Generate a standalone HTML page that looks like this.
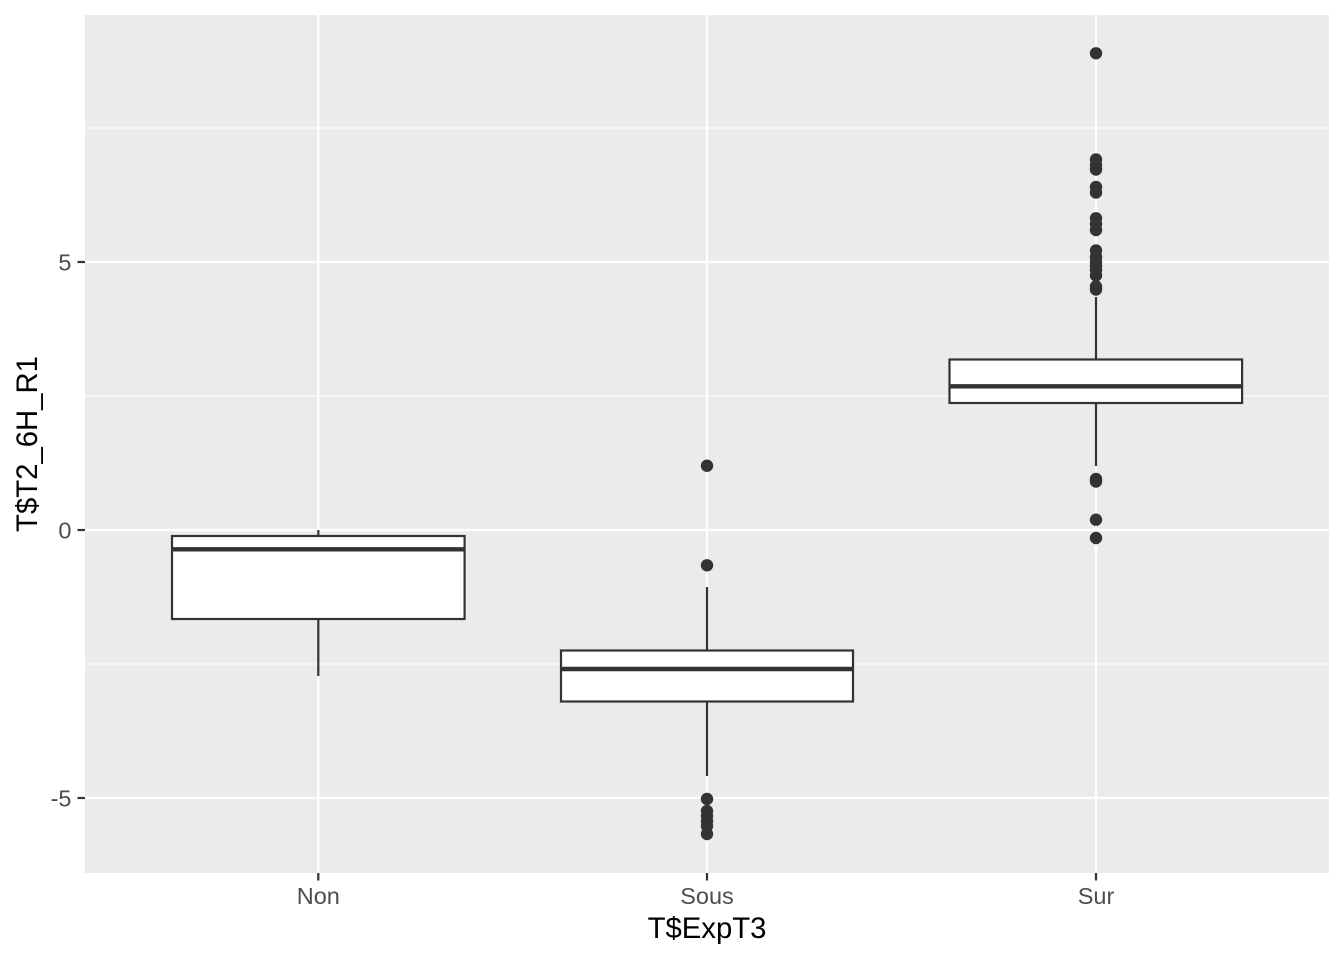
<!DOCTYPE html>
<html>
<head>
<meta charset="utf-8">
<style>
html,body{margin:0;padding:0;background:#fff;}
svg{display:block;}
text{font-family:"Liberation Sans",Arial,sans-serif;}
</style>
</head>
<body>
<svg width="1344" height="960" viewBox="0 0 1344 960" xmlns="http://www.w3.org/2000/svg">
<rect x="0" y="0" width="1344" height="960" fill="#fff"/>
<!-- panel -->
<rect x="85" y="15" width="1244" height="858" fill="#EBEBEB"/>
<!-- minor grid -->
<g stroke="#fff" stroke-width="1.1">
<line x1="85" x2="1329" y1="128" y2="128"/>
<line x1="85" x2="1329" y1="396" y2="396"/>
<line x1="85" x2="1329" y1="664" y2="664"/>
</g>
<!-- major grid -->
<g stroke="#fff" stroke-width="2.2">
<line x1="85" x2="1329" y1="262" y2="262"/>
<line x1="85" x2="1329" y1="530" y2="530"/>
<line x1="85" x2="1329" y1="798" y2="798"/>
<line x1="318.3" x2="318.3" y1="15" y2="873"/>
<line x1="707" x2="707" y1="15" y2="873"/>
<line x1="1096" x2="1096" y1="15" y2="873"/>
</g>
<!-- Non -->
<g stroke="#333" fill="none" stroke-width="2.2">
<line x1="318.3" x2="318.3" y1="530" y2="536"/>
<line x1="318.3" x2="318.3" y1="619" y2="676"/>
<rect x="172" y="536" width="292.6" height="83" fill="#fff"/>
<line x1="172" x2="464.6" y1="549.3" y2="549.3" stroke-width="4.4"/>
</g>
<!-- Sous -->
<g stroke="#333" fill="none" stroke-width="2.2">
<line x1="707" x2="707" y1="587" y2="650.5"/>
<line x1="707" x2="707" y1="701.5" y2="776"/>
<rect x="561" y="650.5" width="292" height="51" fill="#fff"/>
<line x1="561" x2="853" y1="669" y2="669" stroke-width="4.4"/>
</g>
<!-- Sur -->
<g stroke="#333" fill="none" stroke-width="2.2">
<line x1="1096" x2="1096" y1="297" y2="359.5"/>
<line x1="1096" x2="1096" y1="403" y2="466"/>
<rect x="949.5" y="359.5" width="292.6" height="43.5" fill="#fff"/>
<line x1="949.5" x2="1242.1" y1="386.3" y2="386.3" stroke-width="4.4"/>
</g>
<!-- outliers -->
<g fill="#333">
<circle cx="707" cy="465.7" r="6.2"/>
<circle cx="707" cy="565.3" r="6.2"/>
<circle cx="707" cy="799" r="6.2"/>
<circle cx="707" cy="811" r="6.2"/>
<circle cx="707" cy="816" r="6.2"/>
<circle cx="707" cy="821" r="6.2"/>
<circle cx="707" cy="826" r="6.2"/>
<circle cx="707" cy="834" r="6.2"/>
<circle cx="1096" cy="53.3" r="6.2"/>
<circle cx="1096" cy="159.5" r="6.2"/>
<circle cx="1096" cy="165" r="6.2"/>
<circle cx="1096" cy="169.5" r="6.2"/>
<circle cx="1096" cy="187" r="6.2"/>
<circle cx="1096" cy="192.5" r="6.2"/>
<circle cx="1096" cy="218.3" r="6.2"/>
<circle cx="1096" cy="224" r="6.2"/>
<circle cx="1096" cy="230" r="6.2"/>
<circle cx="1096" cy="250.5" r="6.2"/>
<circle cx="1096" cy="257" r="6.2"/>
<circle cx="1096" cy="262" r="6.2"/>
<circle cx="1096" cy="266" r="6.2"/>
<circle cx="1096" cy="270" r="6.2"/>
<circle cx="1096" cy="275.5" r="6.2"/>
<circle cx="1096" cy="286.5" r="6.2"/>
<circle cx="1096" cy="289.5" r="6.2"/>
<circle cx="1096" cy="479" r="6.2"/>
<circle cx="1096" cy="481.5" r="6.2"/>
<circle cx="1096" cy="519.7" r="6.2"/>
<circle cx="1096" cy="538" r="6.2"/>
</g>
<!-- ticks -->
<g stroke="#333" stroke-width="2.2">
<line x1="77.5" x2="85" y1="262" y2="262"/>
<line x1="77.5" x2="85" y1="530" y2="530"/>
<line x1="77.5" x2="85" y1="798" y2="798"/>
<line x1="318.3" x2="318.3" y1="873" y2="880.5"/>
<line x1="707" x2="707" y1="873" y2="880.5"/>
<line x1="1096" x2="1096" y1="873" y2="880.5"/>
</g>
<!-- tick labels -->
<g fill="#4D4D4D" font-size="23.5">
<text x="71.5" y="270.5" text-anchor="end">5</text>
<text x="71.5" y="538.5" text-anchor="end">0</text>
<text x="71.5" y="806.5" text-anchor="end">-5</text>
<text x="318.3" y="904" text-anchor="middle">Non</text>
<text x="707" y="904" text-anchor="middle">Sous</text>
<text x="1096" y="904" text-anchor="middle">Sur</text>
</g>
<!-- axis titles -->
<text x="707" y="938" text-anchor="middle" font-size="29.3" fill="#000">T$ExpT3</text>
<text transform="translate(37,444) rotate(-90)" text-anchor="middle" font-size="29.3" fill="#000">T$T2_6H_R1</text>
</svg>
</body>
</html>
